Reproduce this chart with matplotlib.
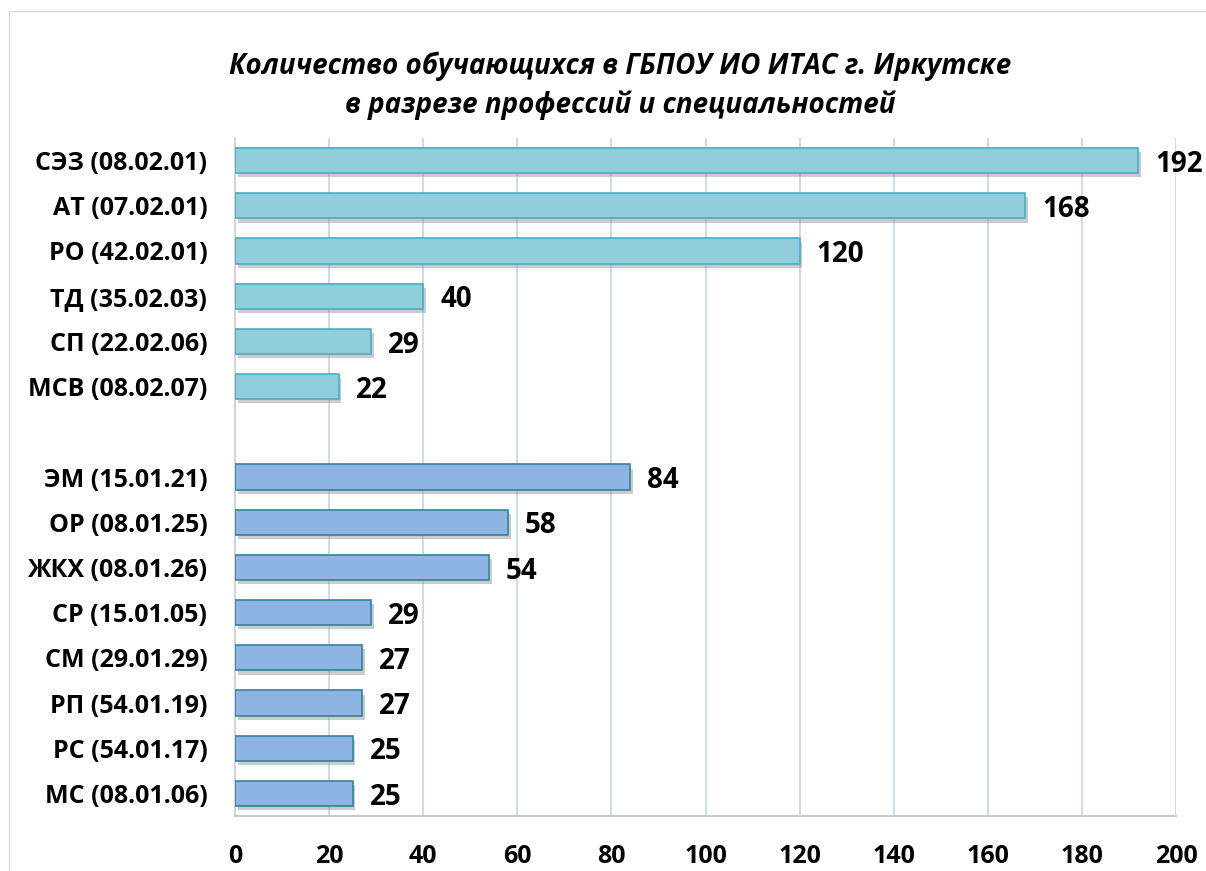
import matplotlib
matplotlib.use("Agg")
import matplotlib.pyplot as plt
import matplotlib.patheffects as pe
import numpy as np

plt.rcParams['font.family'] = ['Open Sans', 'DejaVu Sans']

group1_labels = ["СЭЗ (08.02.01)", "АТ (07.02.01)", "РО (42.02.01)", "ТД (35.02.03)",
                 "СП (22.02.06)", "МСВ (08.02.07)"]
group1_values = [192, 168, 120, 40, 29, 22]
group2_labels = ["ЭМ (15.01.21)", "ОР (08.01.25)", "ЖКХ (08.01.26)", "СР (15.01.05)",
                 "СМ (29.01.29)", "РП (54.01.19)", "РС (54.01.17)", "МС (08.01.06)"]
group2_values = [84, 58, 54, 29, 27, 27, 25, 25]
xticks = [0, 20, 40, 60, 80, 100, 120, 140, 160, 180, 200]
title = "Количество обучающихся в ГБПОУ ИО ИТАС г. Иркутске\nв разрезе профессий и специальностей"

fig = plt.figure(figsize=(12.06, 8.71), dpi=100)
ax = fig.add_axes([0.1949, 0.0631, 0.7802, 0.7785])

n1, n2 = len(group1_values), len(group2_values)
total = n1 + 1 + n2
pos1 = [total - 1 - i for i in range(n1)]
pos2 = [total - 1 - (n1 + 1 + i) for i in range(n2)]

shadow = [pe.SimplePatchShadow(offset=(2, -3), shadow_rgbFace='#999999', alpha=0.5), pe.Normal()]
b1 = ax.barh(pos1, group1_values, height=0.56, color='#92CDDC', edgecolor='#4BACC6', linewidth=1.2, zorder=3)
b2 = ax.barh(pos2, group2_values, height=0.56, color='#8EB4E3', edgecolor='#31859C', linewidth=1.2, zorder=3)
for b in list(b1) + list(b2):
    b.set_path_effects(shadow)

for p, v in zip(pos1 + pos2, group1_values + group2_values):
    ax.text(v + 3.6, p - 0.08, str(v), va='center', ha='left', fontsize=20, fontweight='bold', color='black')

ax.set_yticks(pos1 + pos2)
ax.set_yticklabels(group1_labels + group2_labels, fontsize=18, fontweight='bold')
ax.set_ylim(-0.5, total - 0.5)
ax.set_xlim(0, 200)
ax.set_xticks(xticks)
ax.set_xticklabels([str(t) for t in xticks], fontsize=18, fontweight='bold')
ax.tick_params(axis='both', length=0)
ax.tick_params(axis='x', pad=20)
ax.tick_params(axis='y', pad=20)
ax.grid(axis='x', color='#C6D4E8', linewidth=1.2, zorder=0)
for s in ['top', 'right']:
    ax.spines[s].set_visible(False)
ax.spines['left'].set_color('#D0D0D0')
ax.spines['bottom'].set_color('#BFBFBF')
ax.spines['left'].set_linewidth(1.2)
ax.spines['bottom'].set_linewidth(1.2)

fig.text(0.514, 0.9015, title, ha='center', va='center', fontsize=20, fontweight='bold',
         style='italic', linespacing=1.4)

border = plt.Rectangle((0.0075, -0.01), 1.2, 0.9975, transform=fig.transFigure, fill=False,
                       edgecolor='#D9D9D9', linewidth=1.0)
fig.patches.append(border)

fig.savefig("out.png", dpi=100)
